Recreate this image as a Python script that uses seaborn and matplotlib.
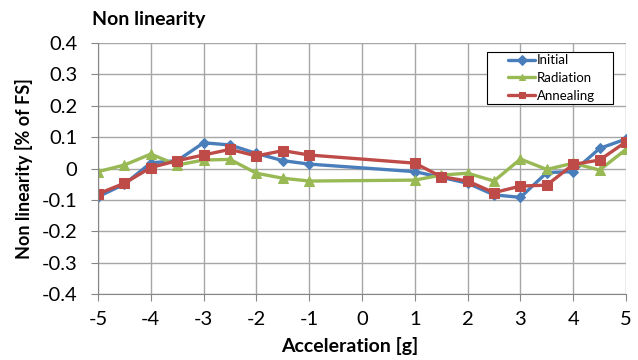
import matplotlib
matplotlib.use("Agg")
import matplotlib.pyplot as plt
from matplotlib.patches import Rectangle
import seaborn as sns
import pandas as pd

x = [-5, -4.5, -4, -3.5, -3, -2.5, -2, -1.5, -1, 1, 1.5, 2, 2.5, 3, 3.5, 4, 4.5, 5]
initial = [-0.09, -0.05, 0.018, 0.025, 0.082, 0.075, 0.048, 0.025, 0.014,
           -0.01, -0.028, -0.047, -0.084, -0.092, -0.013, -0.01, 0.064, 0.094]
radiation = [-0.01, 0.011, 0.046, 0.011, 0.027, 0.029, -0.015, -0.031, -0.04,
             -0.037, -0.021, -0.015, -0.04, 0.03, -0.003, 0.017, -0.005, 0.061]
annealing = [-0.081, -0.047, 0.003, 0.025, 0.043, 0.061, 0.04, 0.057, 0.043,
             0.017, -0.026, -0.04, -0.077, -0.056, -0.053, 0.013, 0.027, 0.085]

series = ["Initial", "Radiation", "Annealing"]
colors = ["#4a7ebb", "#98b954", "#be4b48"]
markers = ["D", "^", "s"]
msizes = [5, 7, 7.5]

df = pd.DataFrame({"x": x * 3,
                   "y": initial + radiation + annealing,
                   "series": [s for s in series for _ in x]})

sns.set_style("white")
plt.rcParams['font.family'] = ['Lato', 'DejaVu Sans']
plt.rcParams['text.color'] = 'black'
plt.rcParams['axes.labelcolor'] = 'black'
plt.rcParams['xtick.color'] = 'black'
plt.rcParams['ytick.color'] = 'black'
fig = plt.figure(figsize=(6.38, 3.6), dpi=100)
W, H = 638, 360
ax = fig.add_axes([98/W, 1 - 294/H, 528/W, 251/H])

for s, c, m, ms in zip(series, colors, markers, msizes):
    sub = df[df.series == s]
    sns.lineplot(data=sub, x="x", y="y", ax=ax, color=c, marker=m,
                 markersize=ms, markeredgecolor=c, linewidth=2.4, label=s,
                 sort=False)

ax.set_xlim(-5, 5)
ax.set_ylim(-0.4, 0.4)
ax.set_xticks(range(-5, 6))
ax.set_xticklabels([str(v) for v in range(-5, 6)])
yt = [-0.4, -0.3, -0.2, -0.1, 0, 0.1, 0.2, 0.3, 0.4]
ax.set_yticks(yt)
ax.set_yticklabels(["0" if v == 0 else f"{v:g}" for v in yt])
ax.grid(True, color="#a6a6a6", linewidth=1)
ax.set_axisbelow(True)
for sp in ["top", "right"]:
    ax.spines[sp].set_visible(False)
for sp in ["left", "bottom"]:
    ax.spines[sp].set_color("#868686")
ax.tick_params(axis="both", direction="out", length=5, color="#868686",
               labelsize=14.5, left=True, bottom=True)
ax.tick_params(axis="y", pad=10)
ax.tick_params(axis="x", pad=7)
ax.set_xlabel("")
ax.set_ylabel("")
fig.text(350/W, 1 - 346/H, "Acceleration [g]", fontsize=14, fontweight="bold",
         ha="center", va="center")
fig.text(24/W, 1 - 168.5/H, "Non linearity [% of FS]", fontsize=13,
         fontweight="bold", ha="center", va="center", rotation=90)
fig.text(92/W, 1 - 20/H, "Non linearity", fontsize=14, fontweight="bold",
         va="center", ha="left")

# legend frame drawn as a box, legend entries placed inside
ax.add_patch(Rectangle((487/W, 1 - 104/H), 126/W, 52/H,
                       transform=fig.transFigure, facecolor="white",
                       edgecolor="black", linewidth=0.8, zorder=8,
                       clip_on=False))
leg = ax.legend(loc="center left", bbox_to_anchor=(508/W, 1 - 78/H),
                bbox_transform=fig.transFigure, fontsize=9.5, frameon=False,
                handlelength=2.05, labelspacing=0.42, borderpad=0,
                borderaxespad=0, handletextpad=0.15)
leg.set_zorder(10)
for h in leg.legend_handles:
    h.set_markersize(5)

fig.savefig("out.png", dpi=100)
